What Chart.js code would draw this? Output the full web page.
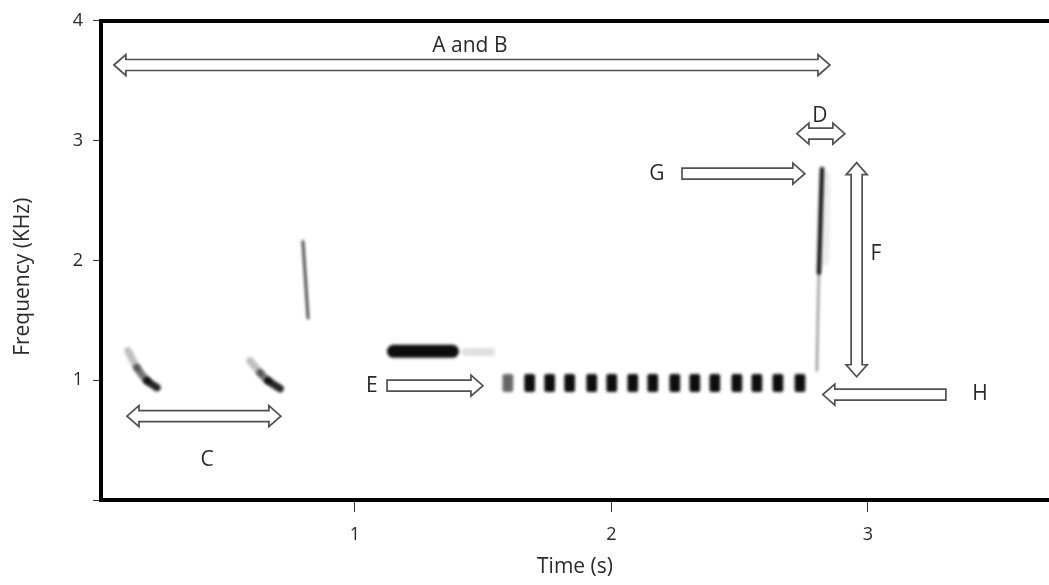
<!DOCTYPE html>
<html><head><meta charset="utf-8">
<script src="https://cdn.jsdelivr.net/npm/chart.js@4.4.0/dist/chart.umd.min.js"></script>
<style>html,body{margin:0;padding:0;background:#fff;overflow:hidden}canvas{display:block}</style>
</head><body>
<canvas id="c" width="1049" height="585"></canvas>
<script>
// ---- axis ticks ----
const xTicks = [1, 2, 3];
const yTicks = [0, 1, 2, 3, 4];
const yTickLabels = ['', '1', '2', '3', '4'];
const xRange = [0.0097, 3.706];
const yRange = [0, 4];

// ---- spectrogram elements (time s, frequency kHz) ----
const chirp1T = [0.115, 0.150, 0.189, 0.228];
const chirp1F = [1.245, 1.104, 0.996, 0.938];
const chirp2T = [0.591, 0.630, 0.661, 0.708];
const chirp2F = [1.162, 1.062, 0.996, 0.929];
const sweepT = [0.797, 0.807, 0.817];
const sweepF = [2.158, 1.84, 1.519];
const toneT = [1.15, 1.38];
const toneF = [1.241, 1.241];
const toneTailT = [1.43, 1.53];
const toneTailF = [1.235, 1.235];
const pulseT = [1.596, 1.681, 1.759, 1.837, 1.923, 2.001, 2.083, 2.161, 2.247, 2.325, 2.403, 2.489, 2.567, 2.649, 2.735];
const pulseLow = 0.905;
const pulseHigh = 1.05;
const dUpperT = [2.821, 2.817, 2.809];
const dUpperF = [2.763, 2.490, 1.900];
const dLowerT = [2.809, 2.805, 2.801];
const dLowerF = [1.900, 1.560, 1.079];

// ---- annotations (time s, frequency kHz) ----
const arrowLabels = ['A and B', 'D', 'G', 'F', 'H', 'E', 'C'];
const arrowFrom = [[0.060, 3.631], [2.723, 3.058], [2.275, 2.724], [2.956, 2.816], [3.304, 0.880], [1.125, 0.954], [0.111, 0.700]];
const arrowTo   = [[2.852, 3.631], [2.910, 3.058], [2.754, 2.724], [2.956, 1.029], [2.824, 0.880], [1.499, 0.954], [0.711, 0.700]];
const arrowBoth = [true, true, false, true, false, false, true];
const labelPos  = [[1.448, 3.793], [2.813, 3.203], [2.177, 2.722], [3.031, 2.050], [3.437, 0.888], [1.066, 0.954], [0.423, 0.332]];

const pts = (ts, fs) => ts.map((t, i) => ({x: t, y: fs[i]}));
const line = (label, data, color, width, extra) => Object.assign({
  type: 'line', label, data, borderColor: color, borderWidth: width,
  pointRadius: 0, fill: false, tension: 0.35, borderCapStyle: 'round', borderJoinStyle: 'round'
}, extra || {});
const fadeSeg = (a0, step) => ({borderColor: ctx => 'rgba(0,0,0,' + Math.min(0.95, a0 + step * ctx.p0DataIndex) + ')'});

const FONT = '"Open Sans", "Noto Sans", sans-serif';
const TXT = '#2a2a2a';

const blurPlugin = {
  id: 'blurMarks',
  beforeDatasetsDraw(chart) { chart.ctx.save(); chart.ctx.filter = 'blur(1.8px)'; },
  afterDatasetsDraw(chart) { chart.ctx.restore(); }
};

function blockArrow(ctx, x1, y1, x2, y2, both) {
  const sh = 5.5, hh = 10.5, hl = 12;
  const L = Math.hypot(x2 - x1, y2 - y1);
  const ang = Math.atan2(y2 - y1, x2 - x1);
  ctx.save();
  ctx.translate(x1, y1);
  ctx.rotate(ang);
  ctx.beginPath();
  if (both) { ctx.moveTo(0, 0); ctx.lineTo(hl, -hh); ctx.lineTo(hl, -sh); }
  else { ctx.moveTo(0, -sh); }
  ctx.lineTo(L - hl, -sh); ctx.lineTo(L - hl, -hh); ctx.lineTo(L, 0);
  ctx.lineTo(L - hl, hh); ctx.lineTo(L - hl, sh);
  if (both) { ctx.lineTo(hl, sh); ctx.lineTo(hl, hh); ctx.closePath(); }
  else { ctx.lineTo(0, sh); ctx.closePath(); }
  ctx.fillStyle = '#fff';
  ctx.fill();
  ctx.lineWidth = 1.7;
  ctx.strokeStyle = '#505050';
  ctx.lineJoin = 'miter';
  ctx.stroke();
  ctx.restore();
}

const annotationPlugin = {
  id: 'arrows',
  afterDraw(chart) {
    const {ctx, scales: {x, y}} = chart;
    ctx.save();
    arrowLabels.forEach((lab, i) => {
      const a = arrowFrom[i], b = arrowTo[i];
      blockArrow(ctx, x.getPixelForValue(a[0]), y.getPixelForValue(a[1]),
                 x.getPixelForValue(b[0]), y.getPixelForValue(b[1]), arrowBoth[i]);
      ctx.fillStyle = TXT;
      ctx.font = '21px ' + FONT;
      ctx.textAlign = 'center';
      ctx.textBaseline = 'middle';
      ctx.fillText(lab, x.getPixelForValue(labelPos[i][0]), y.getPixelForValue(labelPos[i][1]));
    });
    ctx.restore();
  }
};

new Chart(document.getElementById('c'), {
  data: {
    datasets: [
      line('Chirp 1', pts(chirp1T, chirp1F), '#000', 7.5, {segment: fadeSeg(0.25, 0.3)}),
      line('Chirp 2', pts(chirp2T, chirp2F), '#000', 7.5, {segment: fadeSeg(0.25, 0.3)}),
      line('Sweep', pts(sweepT, sweepF), 'rgba(0,0,0,0.75)', 2.8),
      line('Tone tail', pts(toneTailT, toneTailF), 'rgba(0,0,0,0.12)', 8),
      line('Tone', pts(toneT, toneF), 'rgba(0,0,0,0.95)', 13),
      {
        type: 'bar', label: 'Pulses',
        data: pulseT.map(t => ({x: t, y: [pulseLow, pulseHigh]})),
        backgroundColor: ctx => ctx.dataIndex === 0 ? 'rgba(0,0,0,0.6)' : 'rgba(0,0,0,0.95)',
        barThickness: 10, borderRadius: 2, borderSkipped: false
      },
      line('D haze', pts([2.835, 2.83], [2.7, 2.0]), 'rgba(0,0,0,0.07)', 10),
      line('D lower', pts(dLowerT, dLowerF), 'rgba(0,0,0,0.45)', 2.2),
      line('D upper', pts(dUpperT, dUpperF), 'rgba(0,0,0,0.9)', 4.5)
    ]
  },
  options: {
    responsive: false,
    animation: false,
    events: [],
    layout: {padding: 0},
    plugins: {legend: {display: false}, tooltip: {enabled: false}},
    scales: {
      x: {
        type: 'linear', position: 'bottom', min: xRange[0], max: xRange[1], offset: false,
        afterFit: s => { s.height = 85; },
        afterBuildTicks: s => { s.ticks = xTicks.map(v => ({value: v})); },
        grid: {drawOnChartArea: false, drawTicks: true, tickLength: 12, tickColor: '#333', tickWidth: 1, offset: false},
        border: {display: true, width: 4, color: '#000'},
        ticks: {color: TXT, font: {family: FONT, size: 18}, padding: 12, maxRotation: 0, autoSkip: false},
        title: {display: true, text: 'Time (s)', color: TXT, font: {family: FONT, size: 21}, padding: {top: 0, bottom: 5}}
      },
      x2: {
        type: 'linear', position: 'top', min: xRange[0], max: xRange[1], offset: false,
        afterFit: s => { s.height = 18; },
        grid: {display: false, drawTicks: false},
        border: {display: true, width: 4, color: '#000'},
        ticks: {display: false}
      },
      y: {
        type: 'linear', position: 'left', min: yRange[0], max: yRange[1],
        afterFit: s => { s.width = 101; },
        afterBuildTicks: s => { s.ticks = yTicks.map(v => ({value: v})); },
        grid: {drawOnChartArea: false, drawTicks: true, tickLength: 8, tickColor: '#333', tickWidth: 1},
        border: {display: true, width: 4, color: '#000'},
        ticks: {color: TXT, font: {family: FONT, size: 18}, padding: 10, autoSkip: false,
                callback: v => yTickLabels[yTicks.indexOf(v)]},
        title: {display: true, text: 'Frequency (KHz)      ', color: TXT, font: {family: FONT, size: 21}, padding: {top: 10, bottom: 0}}
      }
    }
  },
  plugins: [blurPlugin, annotationPlugin]
});
</script>
</body></html>
